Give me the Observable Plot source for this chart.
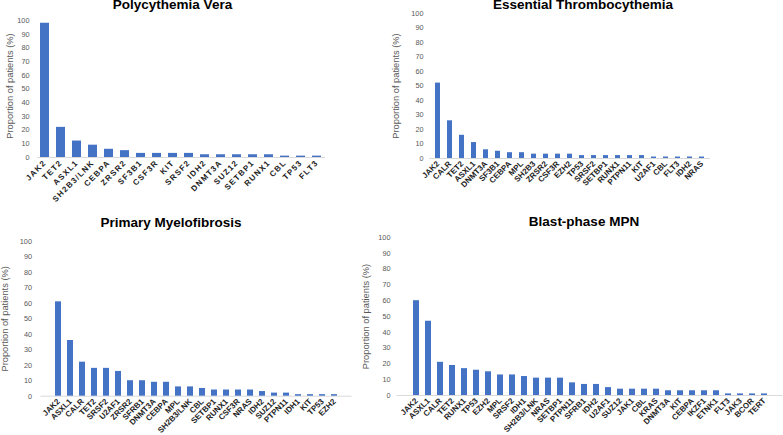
<!DOCTYPE html>
<html><head><meta charset="utf-8">
<script src="https://cdn.jsdelivr.net/npm/d3@7"></script>
<script src="https://cdn.jsdelivr.net/npm/@observablehq/plot@0.6"></script>
<style>
body{margin:0;background:#fff;}
#root{position:relative;width:783px;height:435px;overflow:hidden;font-family:"Liberation Sans",Arial,sans-serif;}
.panel{position:absolute;}
.title{position:absolute;width:300px;font-weight:bold;font-size:13.5px;line-height:10px;color:#000;text-align:center;white-space:nowrap;}
</style></head><body><div id="root"></div>
<script>
// ---- data ----
const yLabel = "Proportion of patients (%)";
const yTicks = [0, 10, 20, 30, 40, 50, 60, 70, 80, 90, 100];

const pvTitle = "Polycythemia Vera";
const pvGenes = ["JAK2","TET2","ASXL1","SH2B3/LNK","CEBPA","ZRSR2","SF3B1","CSF3R","KIT","SRSF2","IDH2","DNMT3A","SUZ12","SETBP1","RUNX1","CBL","TP53","FLT3"];
const pvValues = [98, 22, 12, 9, 6, 5, 3, 3, 3, 3, 2, 2, 2, 2, 2, 1, 1, 1];

const etTitle = "Essential Thrombocythemia";
const etGenes = ["JAK2","CALR","TET2","ASXL1","DNMT3A","SF3B1","CEBPA","MPL","SH2B3","ZRSR2","CSF3R","EZH2","TP53","SRSF2","SETBP1","RUNX1","PTPN11","KIT","U2AF1","CBL","FLT3","IDH2","NRAS"];
const etValues = [52, 26, 16, 11, 6, 5, 4, 4, 3, 3, 3, 3, 2, 2, 2, 2, 2, 2, 1, 1, 1, 1, 1];

const pmfTitle = "Primary Myelofibrosis";
const pmfGenes = ["JAK2","ASXL1","CALR","TET2","SRSF2","U2AF1","ZRSR2","SFRB1","DNMT3A","CEBPA","MPL","SH2B3/LNK","CBL","SETBP1","RUNX1","CSF3R","NRAS","IDH2","SUZ12","PTPN11","IDH1","KIT","TP53","EZH2"];
const pmfValues = [61, 36, 22, 18, 18, 16, 10, 10, 9, 9, 6, 6, 5, 4, 4, 4, 4, 3, 2, 2, 1, 1, 1, 1];

const bpTitle = "Blast-phase MPN";
const bpGenes = ["JAK2","ASXL1","CALR","TET2","RUNX1","TP53","EZH2","MPL","SRSF2","IDH1","SH2B3/LNK","NRAS","SETBP1","PTPN11","SFRB1","IDH2","U2AF1","SUZ12","JAK1","CBL","KRAS","DNMT3A","KIT","CEBPA","IKZF1","ETNK1","FLT3","JAK3","BCOR","TERT"];
const bpValues = [60, 47, 21, 19, 17, 16, 15, 13, 13, 12, 11, 11, 11, 8, 7, 7, 5, 4, 4, 4, 4, 3, 3, 3, 3, 3, 1, 1, 1, 1];

const root = document.getElementById("root");

function panel(o) {
  const data = o.genes.map((g, i) => ({gene: g, value: o.values[i]}));
  const chart = Plot.plot({
    width: o.width, height: o.height,
    marginTop: o.mt, marginBottom: o.mb, marginLeft: o.ml, marginRight: o.mr,
    style: {fontFamily: "'Liberation Sans', Arial, sans-serif", background: "transparent", overflow: "visible"},
    x: {domain: o.genes, paddingInner: o.pad, paddingOuter: o.pad / 2, label: null},
    y: {domain: [0, 100], label: null},
    marks: [
      Plot.ruleY([0], {stroke: "#d9d9d9", strokeWidth: 1}),
      Plot.barY(data, {x: "gene", y: "value", fill: "#4472C4"}),
      Plot.axisY({ticks: yTicks, tickSize: 0, tickPadding: o.ytp, fontSize: 7.3, fill: "#595959", label: null}),
      Plot.axisX({tickRotate: -45, tickSize: 0, tickPadding: 4, fontSize: 8, fontWeight: "bold", fill: "#222", label: null}),
      Plot.text([yLabel], {text: d => d, frameAnchor: "left", textAnchor: "middle", lineAnchor: "middle", rotate: -90, dx: o.labelX - o.ml, dy: o.labelDy || 0, fontSize: 9.3, fill: "#595959"})
    ]
  });
  const div = document.createElement("div");
  div.className = "panel";
  div.style.left = o.left + "px";
  div.style.top = o.top + "px";
  div.appendChild(chart);
  if (o.spacing) {
    chart.querySelectorAll('[aria-label="x-axis tick label"] text').forEach(t => t.setAttribute("letter-spacing", o.spacing));
  }
  root.appendChild(div);
  const t = document.createElement("div");
  t.className = "title";
  t.textContent = o.title;
  t.style.left = (o.titleX - 150) + "px";
  t.style.top = (o.titleBase - 9.7) + "px";
  root.appendChild(t);
}

panel({title: pvTitle, genes: pvGenes, values: pvValues, left: 0, top: 0, width: 340, height: 215,
  mt: 20, mb: 58, ml: 37, mr: 15, pad: 0.42, ytp: 8, labelX: 9.5, labelDy: -3, spacing: "1.2px", titleX: 172.5, titleBase: 10});
panel({title: etTitle, genes: etGenes, values: etValues, left: 370, top: 0, width: 413, height: 215,
  mt: 13, mb: 57, ml: 59, mr: 73, pad: 0.59, ytp: 6, labelX: 26, titleX: 583, titleBase: 10});
panel({title: pmfTitle, genes: pmfGenes, values: pmfValues, left: 0, top: 220, width: 370, height: 215,
  mt: 21, mb: 39.3, ml: 40.5, mr: 18.5, pad: 0.5, ytp: 9, labelX: 4.5, titleX: 171, titleBase: 228});
panel({title: bpTitle, genes: bpGenes, values: bpValues, left: 350, top: 220, width: 433, height: 215,
  mt: 17, mb: 40, ml: 46.6, mr: 0.6, pad: 0.53, ytp: 6.6, labelX: 16, titleX: 584, titleBase: 227});
</script></body></html>
